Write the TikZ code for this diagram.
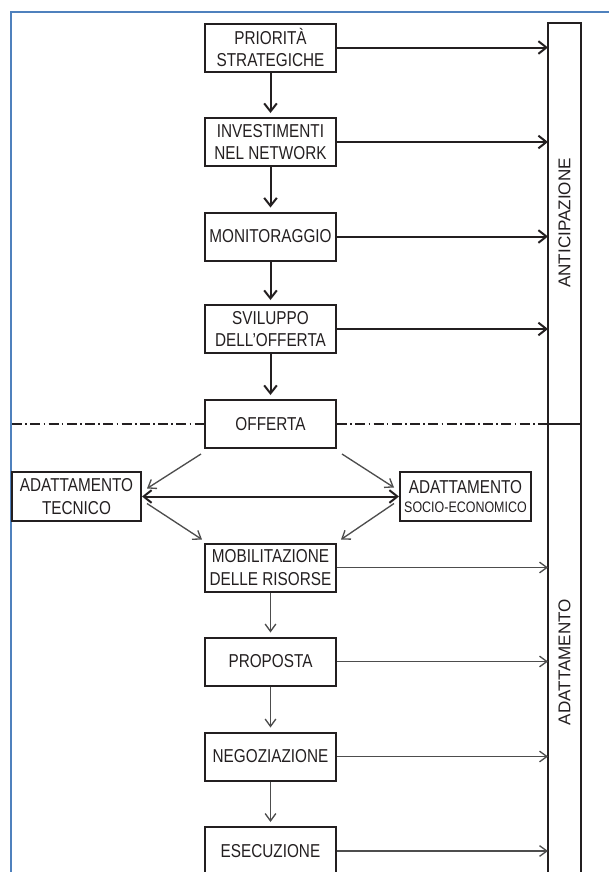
\documentclass[tikz,border=0pt]{standalone}
\usepackage{fontspec}
\setmainfont{Liberation Sans}[FakeStretch=0.82]
\newfontfamily\barfont{Liberation Sans}
\usetikzlibrary{arrows.meta}
\definecolor{ink}{HTML}{231F20}
\definecolor{thin}{HTML}{4D4D4D}
\definecolor{frameblue}{HTML}{4F81BD}
\tikzset{
  box/.style={draw=ink, line width=1.5pt, text=ink, minimum width=98.25pt, minimum height=36pt,
    inner sep=0pt, align=center, font=\fontsize{14}{16.8}\selectfont},
  bigarrow/.style={draw=ink, line width=1.5pt, -{Straight Barb[length=6pt,width=9.5pt]}},
  smallarrow/.style={draw=thin, line width=1pt, -{Straight Barb[length=5.5pt,width=8pt]}},
  dashdot/.style={draw=ink, line width=0.8pt, dash pattern=on 7.5pt off 2.5pt on 1.2pt off 2.5pt},
  bartext/.style={rotate=90, text=ink, font=\barfont\fontsize{12.8}{15}\selectfont}
}
\begin{document}
\begin{tikzpicture}[x=0.75pt,y=-0.75pt]
\useasboundingbox (0,0) rectangle (609,872);
\clip (0,0) rectangle (609,872);
% blue frame
\draw[frameblue, line width=1.5pt] (11,880) -- (11,12) -- (620,12);
% right bar
\coordinate (bar) at (548,23);
\coordinate (barR) at (581,23);
\coordinate (divL) at (548,424);
\draw[ink, line width=1.5pt] (548,890) -- (bar) -- (barR) -- (581,890);
\draw[ink, line width=1.5pt] (divL) -- (581,424);
\node[bartext] (anti) at (564.5,223) {ANTICIPAZIONE};
\node[bartext] (adat) at (564.5,662) {ADATTAMENTO};
% boxes
\node[box] (p1) at (270.5,47.5) {PRIORITÀ\\STRATEGICHE};
\node[box] (p2) at (270.5,142) {INVESTIMENTI\\NEL NETWORK};
\node[box] (p3) at (270.5,236.5) {MONITORAGGIO};
\node[box] (p4) at (270.5,329) {SVILUPPO\\DELL'OFFERTA};
\node[box] (p5) at (270.5,424) {OFFERTA};
\node[box, minimum width=96.75pt, minimum height=36.75pt] (at) at (76.5,496.5) {ADATTAMENTO\\TECNICO};
\node[box, minimum height=36.75pt] (as) at (465.5,496.5) {ADATTAMENTO\\[-2pt]{\fontsize{11.4}{13}\selectfont SOCIO-ECONOMICO}};
\node[box] (p6) at (270.5,567.5) {MOBILITAZIONE\\DELLE RISORSE};
\node[box] (p7) at (270.5,661.5) {PROPOSTA};
\node[box] (p8) at (270.5,756.5) {NEGOZIAZIONE};
\node[box] (p9) at (270.5,851) {ESECUZIONE};
% dash-dot separator
\coordinate (dl) at (12,424);
\draw[dashdot] (dl) -- (p5.west);
\draw[dashdot] (p5.east) -- (divL);
% vertical arrows upper
\draw[bigarrow, shorten >=3pt] (p1.south) -- (p2.north);
\draw[bigarrow, shorten >=3pt] (p2.south) -- (p3.north);
\draw[bigarrow, shorten >=3pt] (p3.south) -- (p4.north);
\draw[bigarrow, shorten >=3pt] (p4.south) -- (p5.north);
% vertical arrows lower
\draw[smallarrow, shorten >=3pt] (p6.south) -- (p7.north);
\draw[smallarrow, shorten >=3pt] (p7.south) -- (p8.north);
\draw[smallarrow, shorten >=3pt] (p8.south) -- (p9.north);
% horizontal arrows to bar
\draw[bigarrow] (p1.east) -- (p1.east -| bar);
\draw[bigarrow] (p2.east) -- (p2.east -| bar);
\draw[bigarrow] (p3.east) -- (p3.east -| bar);
\draw[bigarrow] (p4.east) -- (p4.east -| bar);
\draw[smallarrow] (p6.east) -- (p6.east -| bar);
\draw[smallarrow] (p7.east) -- (p7.east -| bar);
\draw[smallarrow] (p8.east) -- (p8.east -| bar);
\draw[smallarrow] (p9.east) -- (p9.east -| bar);
% diagonal arrows
\draw[smallarrow] ([shift={(-3,5)}]p5.south west) -- ([shift={(5,-8)}]at.east);
\draw[smallarrow] ([shift={(5,5)}]p5.south east) -- ([shift={(-5,-9)}]as.west);
\draw[smallarrow] ([shift={(5,7)}]at.east) -- ([shift={(-2,-3)}]p6.north west);
\draw[smallarrow] ([shift={(-5,7)}]as.west) -- ([shift={(4,-3)}]p6.north east);
% double arrow
\draw[draw=ink, line width=1.5pt, {Straight Barb[length=6pt,width=9.5pt]}-{Straight Barb[length=6pt,width=9.5pt]}] (at.east) -- (as.west);
\end{tikzpicture}
\end{document}
